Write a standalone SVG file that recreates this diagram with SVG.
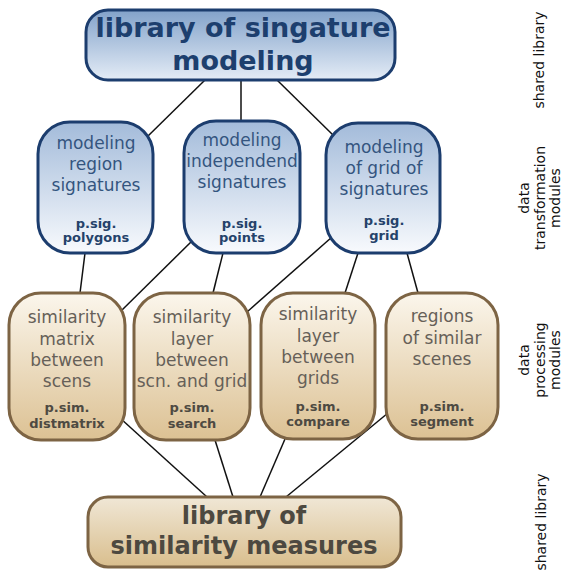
<svg xmlns="http://www.w3.org/2000/svg" width="563" height="575" viewBox="0 0 563 575">
<defs>
<linearGradient id="gTop" x1="0" y1="0" x2="0" y2="1"><stop offset="0" stop-color="#82a2ca"/><stop offset="1" stop-color="#e4ecf6"/></linearGradient>
<linearGradient id="gBlue" x1="0" y1="0" x2="0" y2="1"><stop offset="0" stop-color="#a3bbda"/><stop offset="1" stop-color="#f8fafd"/></linearGradient>
<linearGradient id="gTan" x1="0" y1="0" x2="0" y2="1"><stop offset="0" stop-color="#fbf6ec"/><stop offset="1" stop-color="#dcc193"/></linearGradient>
<linearGradient id="gBot" x1="0" y1="0" x2="0" y2="1"><stop offset="0" stop-color="#f0e7d6"/><stop offset="1" stop-color="#d9be8d"/></linearGradient>
</defs>
<style>
text{font-family:"DejaVu Sans","Liberation Sans",sans-serif;text-anchor:middle}
.blue{stroke:#1c3d6e;stroke-width:3}
.tan{stroke:#7d6444;stroke-width:3}
.tb{font-weight:bold;font-size:27px;fill:#1d3f6e}
.bt{font-size:17px;fill:#34557f}
.bb{font-weight:bold;font-size:13px;fill:#24426a}
.tt{font-size:17px;fill:#666058}
.tbb{font-weight:bold;font-size:13px;fill:#4e4a42}
.bot{font-weight:bold;font-size:24px;fill:#4d4940}
.side{font-size:14px;fill:#111}
.conn line{stroke:#111;stroke-width:1.5}
</style>
<g id="connectors" class="conn">
<line x1="205" y1="80" x2="148" y2="136"/>
<line x1="241" y1="80" x2="241" y2="122"/>
<line x1="277" y1="80" x2="333" y2="135"/>
<line x1="85" y1="253" x2="80" y2="293"/>
<line x1="193" y1="240" x2="120" y2="312"/>
<line x1="223" y1="253" x2="213" y2="293"/>
<line x1="332" y1="237" x2="247" y2="312"/>
<line x1="358" y1="253" x2="345" y2="293"/>
<line x1="407" y1="253" x2="418" y2="293"/>
<line x1="120" y1="418" x2="207" y2="497"/>
<line x1="215" y1="440" x2="233" y2="497"/>
<line x1="285" y1="439" x2="260" y2="497"/>
<line x1="388" y1="413" x2="286" y2="497"/>
</g>
<g id="top">
<rect x="86" y="10" width="309" height="70" rx="22" fill="url(#gTop)" class="blue"/>
<text class="tb" x="243" y="37">library of singature</text>
<text class="tb" x="243" y="70">modeling</text>
</g>
<g id="sig-polygons">
<rect x="38" y="122" width="115" height="131" rx="32" fill="url(#gBlue)" class="blue"/>
<text class="bt" x="96" y="149">modeling</text>
<text class="bt" x="96" y="170">region</text>
<text class="bt" x="96" y="191">signatures</text>
<text class="bb" x="96" y="228">p.sig.</text>
<text class="bb" x="96" y="242">polygons</text>
</g>
<g id="sig-points">
<rect x="184" y="121" width="116" height="132" rx="32" fill="url(#gBlue)" class="blue"/>
<text class="bt" x="242" y="146">modeling</text>
<text class="bt" x="242" y="167">independend</text>
<text class="bt" x="242" y="188">signatures</text>
<text class="bb" x="242" y="228">p.sig.</text>
<text class="bb" x="242" y="242">points</text>
</g>
<g id="sig-grid">
<rect x="326" y="123" width="114" height="130" rx="32" fill="url(#gBlue)" class="blue"/>
<text class="bt" x="384" y="153">modeling</text>
<text class="bt" x="384" y="174">of grid of</text>
<text class="bt" x="384" y="195">signatures</text>
<text class="bb" x="384" y="225">p.sig.</text>
<text class="bb" x="384" y="240">grid</text>
</g>
<g id="sim-distmatrix">
<rect x="9" y="293" width="116" height="147" rx="32" fill="url(#gTan)" class="tan"/>
<text class="tt" x="67" y="323">similarity</text>
<text class="tt" x="67" y="345">matrix</text>
<text class="tt" x="67" y="366">between</text>
<text class="tt" x="67" y="387">scens</text>
<text class="tbb" x="67" y="412">p.sim.</text>
<text class="tbb" x="67" y="428">distmatrix</text>
</g>
<g id="sim-search">
<rect x="134" y="293" width="116" height="147" rx="32" fill="url(#gTan)" class="tan"/>
<text class="tt" x="192" y="323">similarity</text>
<text class="tt" x="192" y="345">layer</text>
<text class="tt" x="192" y="366">between</text>
<text class="tt" x="192" y="387">scn. and grid</text>
<text class="tbb" x="192" y="412">p.sim.</text>
<text class="tbb" x="192" y="428">search</text>
</g>
<g id="sim-compare">
<rect x="261" y="293" width="114" height="146" rx="32" fill="url(#gTan)" class="tan"/>
<text class="tt" x="318" y="320">similarity</text>
<text class="tt" x="318" y="342">layer</text>
<text class="tt" x="318" y="363">between</text>
<text class="tt" x="318" y="384">grids</text>
<text class="tbb" x="318" y="411">p.sim.</text>
<text class="tbb" x="318" y="426">compare</text>
</g>
<g id="sim-segment">
<rect x="386" y="293" width="112" height="146" rx="32" fill="url(#gTan)" class="tan"/>
<text class="tt" x="442" y="322">regions</text>
<text class="tt" x="442" y="344">of similar</text>
<text class="tt" x="442" y="365">scenes</text>
<text class="tbb" x="442" y="411">p.sim.</text>
<text class="tbb" x="442" y="426">segment</text>
</g>
<g id="bottom">
<rect x="88" y="497" width="313" height="70" rx="20" fill="url(#gBot)" class="tan"/>
<text class="bot" x="244" y="524">library of</text>
<text class="bot" x="244" y="554">similarity measures</text>
</g>
<g id="side-labels">
<text class="side" transform="translate(544,60) rotate(-90)">shared library</text>
<text class="side" transform="translate(529,198) rotate(-90)">data</text>
<text class="side" transform="translate(545,198) rotate(-90)">transformation</text>
<text class="side" transform="translate(560,198) rotate(-90)">modules</text>
<text class="side" transform="translate(529,360) rotate(-90)">data</text>
<text class="side" transform="translate(545,360) rotate(-90)">processing</text>
<text class="side" transform="translate(560,360) rotate(-90)">modules</text>
<text class="side" transform="translate(546,522) rotate(-90)">shared library</text>
</g>
</svg>
